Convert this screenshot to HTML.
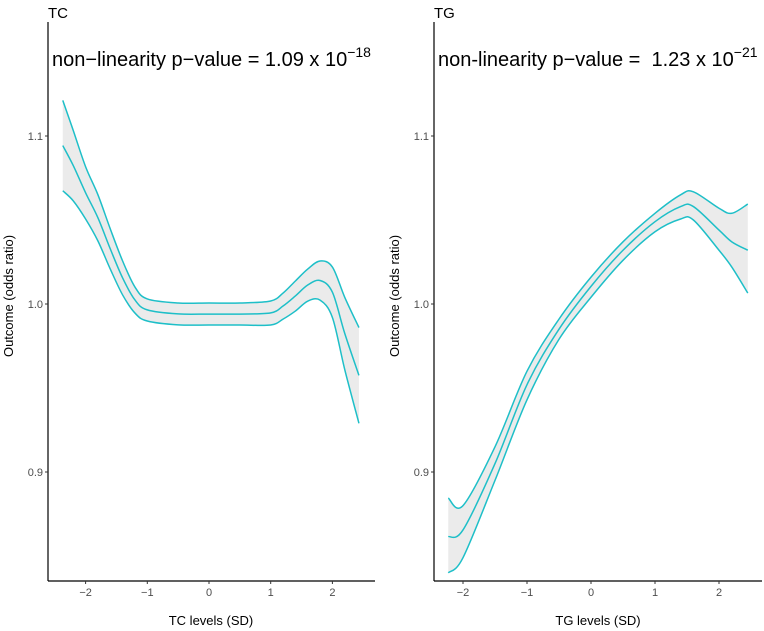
<!DOCTYPE html>
<html><head><meta charset="utf-8"><style>
html,body{margin:0;padding:0;background:#fff}
svg{display:block;font-family:"Liberation Sans",Arial,sans-serif}
</style></head><body>
<svg id="chart" width="764" height="631" viewBox="0 0 764 631"></svg>
<script>
const tcX=[-2.37,-2.2,-2,-1.8,-1.6,-1.4,-1.2,-1,-0.5,0,0.5,1,1.2,1.4,1.6,1.8,2,2.2,2.43];
const tcMid=[1.0943,1.0824,1.0662,1.0513,1.0328,1.0155,1.0024,0.9965,0.9941,0.994,0.994,0.9947,0.9988,1.0048,1.0113,1.014,1.007,0.9825,0.9575];
const tcLow=[1.0674,1.0614,1.0506,1.0375,1.0208,1.0054,0.9946,0.9899,0.9876,0.9875,0.9875,0.9875,0.991,0.9958,1.0017,1.0023,0.992,0.961,0.929];
const tcUp=[1.1212,1.1033,1.0817,1.065,1.0447,1.0256,1.0101,1.003,1.0006,1.0006,1.0006,1.0018,1.0065,1.0137,1.0208,1.0256,1.022,1.004,0.986];
const tgX=[-2.23,-2,-1.5,-1,-0.5,0,0.5,1,1.4,1.6,2,2.2,2.45];
const tgMid=[0.8615,0.8655,0.905,0.952,0.985,1.0105,1.032,1.049,1.058,1.058,1.044,1.037,1.032];
const tgUp=[0.8845,0.880,0.915,0.960,0.991,1.016,1.037,1.054,1.065,1.0668,1.057,1.054,1.0595];
const tgLow=[0.840,0.849,0.895,0.943,0.979,1.004,1.026,1.043,1.0506,1.050,1.032,1.022,1.0065];
const yTicks=[0.9,1.0,1.1];
const yTickLabels=["0.9","1.0","1.1"];
const xTicks=[-2,-1,0,1,2];
const xTickLabels=["\u22122","\u22121","0","1","2"];

const NS="http://www.w3.org/2000/svg";
const svg=document.getElementById('chart');
function el(t,a,p){const e=document.createElementNS(NS,t);for(const k in a)e.setAttribute(k,a[k]);(p||svg).appendChild(e);return e;}
const yS=v=>304-(v-1.0)*1680;
function smooth(pts){let d="M"+pts[0][0]+","+pts[0][1];for(let i=0;i<pts.length-1;i++){const p0=pts[Math.max(0,i-1)],p1=pts[i],p2=pts[i+1],p3=pts[Math.min(pts.length-1,i+2)];
const c1=[p1[0]+(p2[0]-p0[0])/6,p1[1]+(p2[1]-p0[1])/6],c2=[p2[0]-(p3[0]-p1[0])/6,p2[1]-(p3[1]-p1[1])/6];
d+=" C"+c1[0].toFixed(2)+","+c1[1].toFixed(2)+" "+c2[0].toFixed(2)+","+c2[1].toFixed(2)+" "+p2[0].toFixed(2)+","+p2[1].toFixed(2);}return d;}
function rev(pts){const r=pts.slice().reverse();return smooth(r).replace(/^M/," L");}

function panel(o){
  const g=el('g',{});
  
  
  const xS=v=>o.x0+v*o.ux;
  const up=o.xs.map((x,i)=>[xS(x),yS(o.up[i])]);
  const lo=o.xs.map((x,i)=>[xS(x),yS(o.low[i])]);
  const mid=o.xs.map((x,i)=>[xS(x),yS(o.mid[i])]);
  const band=el('path',{d:smooth(up)+rev(lo)+"Z",fill:"#ebebeb",stroke:"none"},g);
  
  
  [[up,'upper-ci-line'],[mid,'estimate-line'],[lo,'lower-ci-line']].forEach(([p,n])=>{
    const l=el('path',{d:smooth(p),fill:"none",stroke:"#1ebfc8","stroke-width":1.5},g);
    
    
  });
  const ya=el('line',{x1:o.ax,y1:22,x2:o.ax,y2:581,stroke:"#000","stroke-width":1.2},g);
  
  
  const xa=el('line',{x1:o.ax,y1:581,x2:o.xEnd,y2:581,stroke:"#000","stroke-width":1.2},g);
  
  
  yTicks.forEach((v,i)=>{
    el('line',{x1:o.ax-3,x2:o.ax,y1:yS(v),y2:yS(v),stroke:"#333"},g);
    const t=el('text',{x:o.ax-5,y:yS(v)+4,"text-anchor":"end","font-size":11,fill:"#4d4d4d"},g);
    t.textContent=yTickLabels[i];
    
    
  });
  xTicks.forEach((v,i)=>{
    el('line',{x1:xS(v),x2:xS(v),y1:581,y2:584,stroke:"#333"},g);
    const t=el('text',{x:xS(v),y:596,"text-anchor":"middle","font-size":11,fill:"#4d4d4d"},g);
    t.textContent=xTickLabels[i];
    
    
  });
  const tt=el('text',{x:o.ax,y:18,"font-size":15,fill:"#000"},g);
  tt.textContent=o.title;
  
  
  const xt=el('text',{x:o.xtX,y:625,"text-anchor":"middle","font-size":13,fill:"#000"},g);
  xt.textContent=o.xtitle;
  
  
  const yt=el('text',{x:0,y:0,"text-anchor":"middle","font-size":13,fill:"#000",transform:"translate("+(o.ax-35)+",296) rotate(-90)"},g);
  yt.textContent="Outcome (odds ratio)";
  
  
  const an=el('text',{x:o.ax+4,y:66,"font-size":20,fill:"#000"},g);
  
  
  const s1=el('tspan',{},an);s1.textContent=o.ann;
  const s2=el('tspan',{dy:-9,"font-size":14},an);s2.textContent=o.exp;
}
panel({name:'tc',title:'TC',xtitle:'TC levels (SD)',x0:209,ux:61.7,ax:48,xEnd:375,xtX:211,
  xs:tcX,up:tcUp,low:tcLow,mid:tcMid,
  ann:"non\u2212linearity p\u2212value = 1.09 x 10",exp:"\u221218"});
panel({name:'tg',title:'TG',xtitle:'TG levels (SD)',x0:591,ux:64,ax:434,xEnd:762,xtX:598,
  xs:tgX,up:tgUp,low:tgLow,mid:tgMid,
  ann:"non-linearity p\u2212value =\u00a0 1.23 x 10",exp:"\u221221"});
</script>
</body></html>
